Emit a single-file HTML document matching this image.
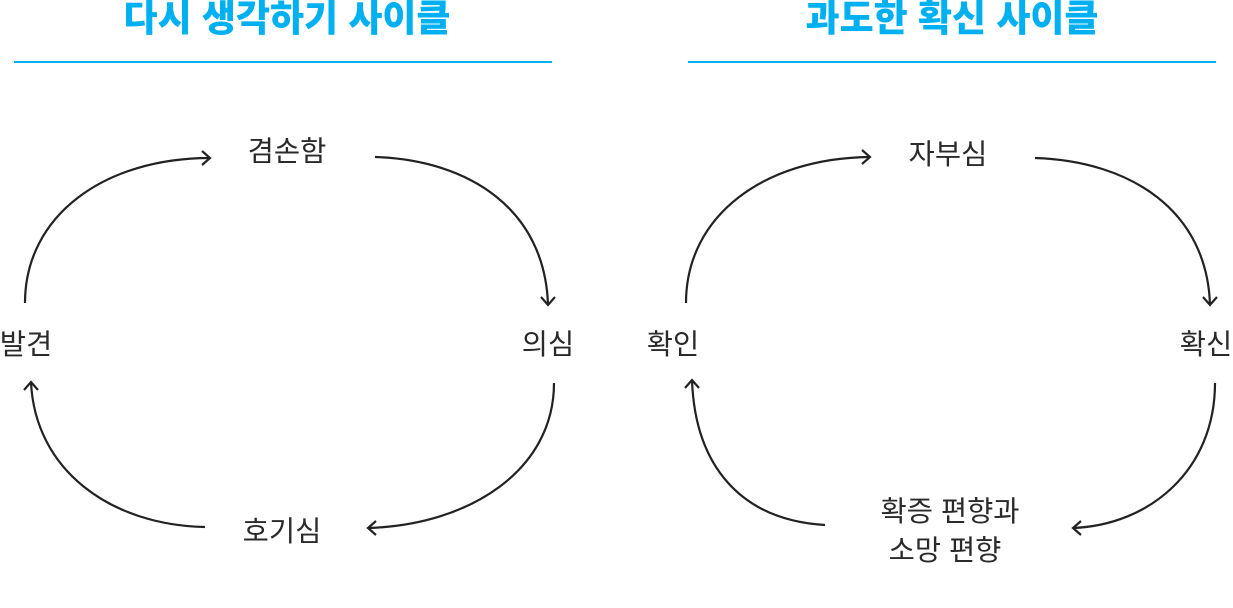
<!DOCTYPE html>
<html><head><meta charset="utf-8"><style>
body{margin:0;width:1233px;height:608px;background:#fff;overflow:hidden;position:relative;font-family:"Liberation Sans","Noto Sans CJK KR",sans-serif}
.t{position:absolute;color:#00b0f0;font-weight:900;font-size:37px;line-height:1;white-space:nowrap;transform:translateX(-50%)}
.l{position:absolute;color:#2a2a2a;font-size:28.5px;line-height:1;white-space:nowrap;transform:translate(-50%,-50%)}
.hr{position:absolute;height:2px;background:#00b0f0;top:61px}
</style></head><body>
<div class="t" style="left:287px;top:0px">다시 생각하기 사이클</div>
<div class="t" style="left:952px;top:0px">과도한 확신 사이클</div>
<div class="hr" style="left:14px;width:538px"></div>
<div class="hr" style="left:688px;width:528px"></div>
<svg width="1233" height="608" style="position:absolute;left:0;top:0" fill="none" stroke="#222" stroke-width="2.2">
<path d="M25,303 C25,215 105,158 210,158"/><path d="M202,151 L210,158 L202,165"/>
<path d="M375,157 C470,160 545,210 548,305"/><path d="M541,297 L548,305 L555,297"/>
<path d="M554,383 C554,470 470,525 368,528"/><path d="M376,521 L368,528 L376,535"/>
<path d="M205,527 C110,525 35,470 31,382"/><path d="M24,390 L31,382 L38,390"/>
<path d="M686,303 C686,215 765,158 870,157"/><path d="M862,150 L870,157 L862,164"/>
<path d="M1035,158 C1130,161 1207,210 1210,305"/><path d="M1203,297 L1210,305 L1217,297"/>
<path d="M1215,383 C1215,470 1150,525 1073,528"/><path d="M1081,521 L1073,528 L1081,535"/>
<path d="M825,525 C740,520 695,465 692,380"/><path d="M685,388 L692,380 L699,388"/>
</svg>
<div class="l" style="left:287px;top:152px">겸손함</div>
<div class="l" style="left:26px;top:345px">발견</div>
<div class="l" style="left:548px;top:345px">의심</div>
<div class="l" style="left:282px;top:532px">호기심</div>
<div class="l" style="left:948px;top:155px">자부심</div>
<div class="l" style="left:673px;top:345px">확인</div>
<div class="l" style="left:1206px;top:345px">확신</div>
<div class="l" style="left:950px;top:512px">확증 편향과</div>
<div class="l" style="left:945px;top:551px">소망 편향</div>
</body></html>
